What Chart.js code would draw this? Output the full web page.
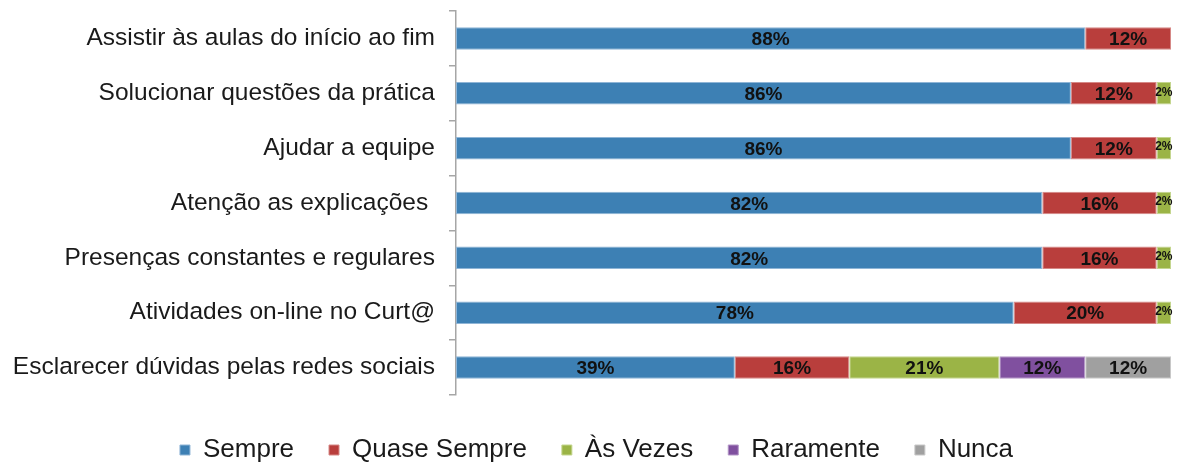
<!DOCTYPE html>
<html>
<head>
<meta charset="utf-8">
<script src="https://cdn.jsdelivr.net/npm/chart.js@4.4.1/dist/chart.umd.min.js"></script>
<style>
  html, body { margin: 0; padding: 0; background: #ffffff; }
  #wrap { width: 1182px; height: 464px; position: relative; }
</style>
</head>
<body>
<div id="wrap"><canvas id="c"></canvas></div>
<script>
const categories = [
  "Assistir às aulas do início ao fim",
  "Solucionar questões da prática",
  "Ajudar a equipe",
  "Atenção as explicações ",
  "Presenças constantes e regulares",
  "Atividades on-line no Curt@",
  "Esclarecer dúvidas pelas redes sociais"
];
const seriesNames = ["Sempre", "Quase Sempre", "Às Vezes", "Raramente", "Nunca"];
const sempre      = [88, 86, 86, 82, 82, 78, 39];
const quaseSempre = [12, 12, 12, 16, 16, 20, 16];
const asVezes     = [0, 2, 2, 2, 2, 2, 21];
const raramente   = [0, 0, 0, 0, 0, 0, 12];
const nunca       = [0, 0, 0, 0, 0, 0, 12];

const colors  = ["#3d80b4", "#b93e3c", "#9bb446", "#80509f", "#a0a0a0"];
const borders = ["#8fb5d6", "#d68886", "#c4d68f", "#b395c6", "#c8c8c8"];
const seriesData = [sempre, quaseSempre, asVezes, raramente, nunca];

const FONT = "'Liberation Sans', Arial, sans-serif";

const dataLabels = {
  id: 'dataLabels',
  afterDatasetsDraw(chart) {
    const ctx = chart.ctx;
    ctx.save();
    ctx.fillStyle = '#111111';
    ctx.textAlign = 'center';
    ctx.textBaseline = 'middle';
    chart.data.datasets.forEach((ds, i) => {
      const meta = chart.getDatasetMeta(i);
      if (meta.hidden) return;
      meta.data.forEach((bar, j) => {
        const v = ds.data[j];
        if (!v) return;
        const p = bar.getProps(['x', 'base', 'y'], true);
        const cx = (p.x + p.base) / 2;
        if (v < 5) {
          ctx.font = "bold 12px " + FONT;
          ctx.fillText(v + '%', cx, p.y - 1);
        } else {
          ctx.font = "bold 19px " + FONT;
          ctx.fillText(v + '%', cx, p.y + 1.5);
        }
      });
    });
    ctx.restore();
  }
};

const legendTweak = {
  id: 'legendTweak',
  afterInit(chart) {
    const lg = chart.legend;
    if (!lg) return;
    const fit = lg.fit.bind(lg);
    lg.fit = function () { fit(); this.height = 69; };
    const draw = lg.draw.bind(lg);
    lg.draw = function () {
      const c = this.ctx;
      c.save();
      c.translate(11, 7);
      draw();
      c.restore();
    };
  }
};

new Chart(document.getElementById('c'), {
  type: 'bar',
  data: {
    labels: categories,
    datasets: seriesNames.map((name, i) => ({
      label: name,
      data: seriesData[i],
      backgroundColor: colors[i],
      borderColor: borders[i],
      borderWidth: 1,
      borderSkipped: false,
      barPercentage: 0.41,
      categoryPercentage: 1.0
    }))
  },
  options: {
    indexAxis: 'y',
    responsive: true,
    maintainAspectRatio: false,
    animation: false,
    layout: { padding: { top: 11, right: 11, bottom: 0, left: 0 } },
    scales: {
      x: {
        stacked: true,
        min: 0,
        max: 100,
        display: false
      },
      y: {
        stacked: true,
        afterFit(scale) {
          scale.width = 456;
          scale.paddingTop = 0;
          scale.paddingBottom = 0;
        },
        border: { display: true, color: '#a6a6a6', width: 1.5 },
        grid: {
          display: true,
          offset: true,
          drawOnChartArea: false,
          drawTicks: true,
          tickLength: 7,
          color: '#a6a6a6',
          lineWidth: 1.5
        },
        ticks: {
          color: '#1a1a1a',
          padding: 14,
          font: { family: FONT, size: 24.5 }
        }
      }
    },
    plugins: {
      tooltip: { enabled: false },
      legend: {
        display: true,
        position: 'bottom',
        labels: {
          boxWidth: 10,
          boxHeight: 10,
          padding: 35,
          color: '#1a1a1a',
          font: { family: FONT, size: 26 }
        }
      }
    }
  },
  plugins: [dataLabels, legendTweak]
});
</script>
</body>
</html>
